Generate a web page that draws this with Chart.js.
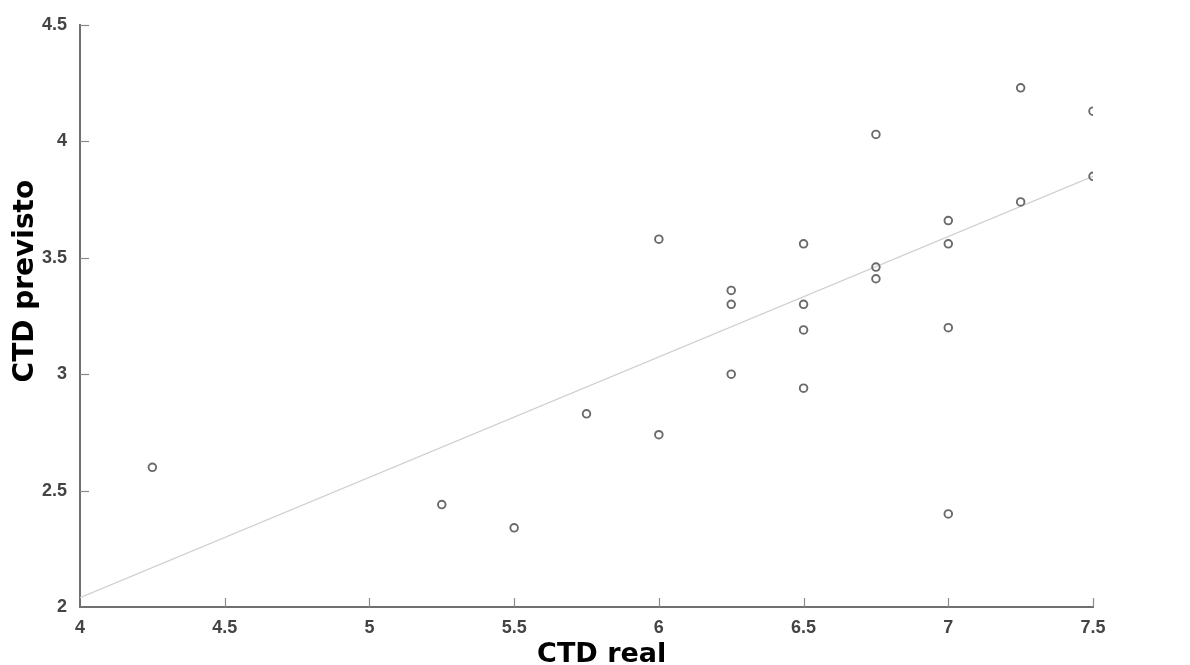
<!DOCTYPE html>
<html>
<head>
<meta charset="utf-8">
<script src="https://cdn.jsdelivr.net/npm/chart.js@4.4.0/dist/chart.umd.min.js"></script>
<style>
  html, body { margin: 0; padding: 0; background: #ffffff; }
  #wrap { width: 1190px; height: 665px; position: relative; }
</style>
</head>
<body>
<div id="wrap"><canvas id="c" width="1190" height="665"></canvas></div>
<script>
// ---- Data ----
const ctdReal = [4.25, 5.25, 5.5, 5.75, 6, 6, 6.25, 6.25, 6.25, 6.5, 6.5, 6.5, 6.5, 6.75, 6.75, 6.75, 7, 7, 7, 7, 7.25, 7.25, 7.5, 7.5];
const ctdPrevisto = [2.60, 2.44, 2.34, 2.83, 3.58, 2.74, 3.36, 3.30, 3.00, 3.56, 3.30, 3.19, 2.94, 4.03, 3.46, 3.41, 3.66, 3.56, 3.20, 2.40, 4.23, 3.74, 4.13, 3.85];
const fitX = [4, 7.5];
const fitY = [2.04, 3.85];
const xTickValues = [4, 4.5, 5, 5.5, 6, 6.5, 7, 7.5];
const yTickValues = [2, 2.5, 3, 3.5, 4, 4.5];
const xTitle = 'CTD real';
const yTitle = 'CTD previsto';

const scatterData = ctdReal.map((x, i) => ({ x: x, y: ctdPrevisto[i] }));
const fitData = fitX.map((x, i) => ({ x: x, y: fitY[i] }));

const tickFont = { family: 'Liberation Sans, Arial, sans-serif', size: 18, weight: 'bold' };

// inward tick marks + axis titles
const decorPlugin = {
  id: 'decor',
  afterDraw(chart) {
    const ctx = chart.ctx;
    const xs = chart.scales.x, ys = chart.scales.y;
    const a = chart.chartArea;
    ctx.save();
    ctx.strokeStyle = '#8a8a8a';
    ctx.lineWidth = 1.2;
    xs.ticks.forEach(t => {
      if (t.value === xs.min) return;
      const px = Math.round(xs.getPixelForValue(t.value)) + 0.5;
      ctx.beginPath(); ctx.moveTo(px, a.bottom); ctx.lineTo(px, a.bottom - 9); ctx.stroke();
    });
    ys.ticks.forEach(t => {
      if (t.value === ys.min) return;
      const py = Math.round(ys.getPixelForValue(t.value)) + 0.5;
      ctx.beginPath(); ctx.moveTo(a.left, py); ctx.lineTo(a.left + 9, py); ctx.stroke();
    });
    // axis titles
    ctx.fillStyle = '#000';
    ctx.font = 'bold 27px "DejaVu Sans", sans-serif';
    ctx.textAlign = 'center';
    ctx.textBaseline = 'alphabetic';
    ctx.fillText(xTitle, a.left + (a.right - a.left) * 0.515, 662);
    ctx.translate(33, a.top + (a.bottom - a.top) * 0.44);
    ctx.rotate(-Math.PI / 2);
    ctx.font = 'bold 28px "DejaVu Sans", sans-serif';
    ctx.fillText(yTitle, 0, 0);
    ctx.restore();
  }
};

new Chart(document.getElementById('c'), {
  type: 'scatter',
  data: {
    datasets: [
      {
        type: 'line',
        label: 'fit',
        data: fitData,
        borderColor: '#cfcfcf',
        borderWidth: 1.3,
        pointRadius: 0,
        fill: false,
        order: 2
      },
      {
        label: 'CTD',
        data: scatterData,
        pointStyle: 'circle',
        pointRadius: 3.8,
        pointBorderWidth: 1.9,
        pointBorderColor: '#6a6a6a',
        pointBackgroundColor: 'rgba(255,255,255,0)',
        borderColor: '#6a6a6a',
        backgroundColor: 'rgba(255,255,255,0)',
        order: 1
      }
    ]
  },
  options: {
    responsive: false,
    animation: false,
    events: [],
    layout: { padding: { top: 25, right: 97, left: 0, bottom: 0 } },
    plugins: { legend: { display: false }, tooltip: { enabled: false } },
    scales: {
      x: {
        type: 'linear',
        min: 4, max: 7.5,
        afterFit(s) { s.height = 58; },
        afterBuildTicks(s) { s.ticks = xTickValues.map(v => ({ value: v })); },
        ticks: { font: tickFont, color: '#444', padding: 2, maxRotation: 0, callback: v => String(v) },
        grid: { display: false },
        border: { display: true, color: '#707070', width: 2 },
        title: { display: false }
      },
      y: {
        type: 'linear',
        min: 2, max: 4.5,
        afterFit(s) { s.width = 80; },
        afterBuildTicks(s) { s.ticks = yTickValues.map(v => ({ value: v })); },
        ticks: { font: tickFont, color: '#444', padding: 5, callback: v => String(v) },
        grid: { display: false },
        border: { display: true, color: '#707070', width: 2 },
        title: { display: false }
      }
    }
  },
  plugins: [decorPlugin]
});
</script>
</body>
</html>
